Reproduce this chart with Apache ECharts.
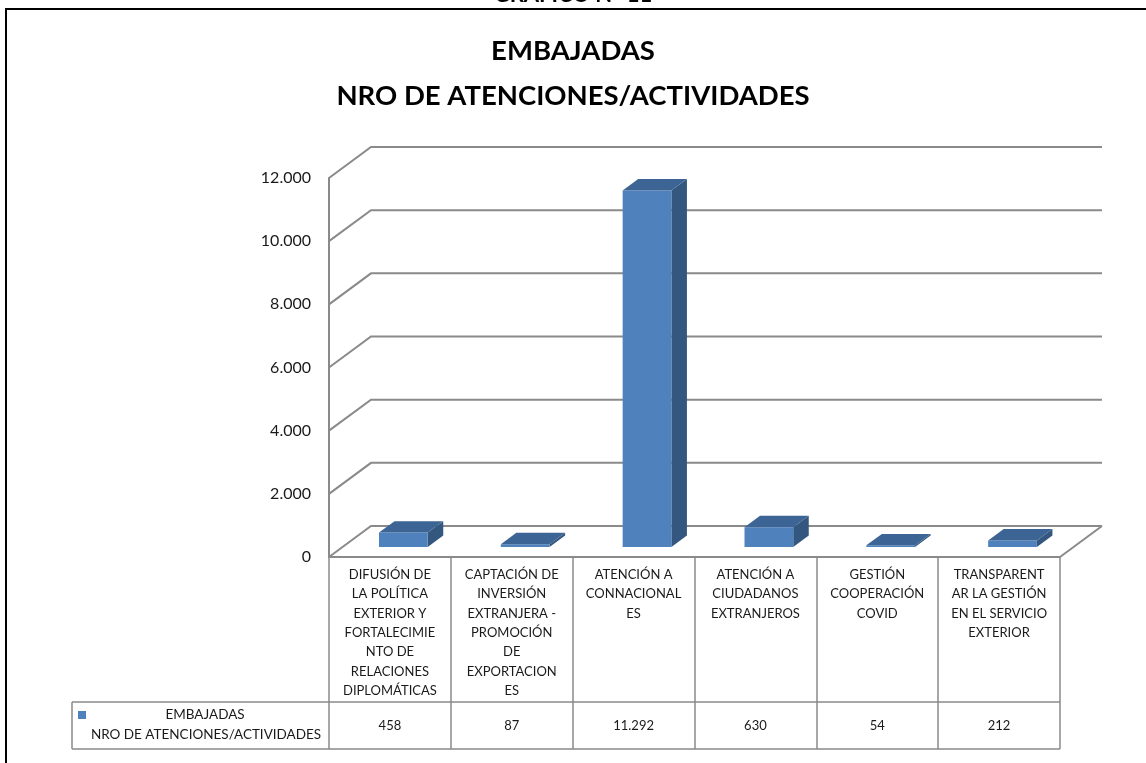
<!DOCTYPE html>
<html>
<head>
<meta charset="utf-8">
<title>Embajadas - Nro de atenciones/actividades</title>
<script src="https://cdn.jsdelivr.net/npm/echarts@6/dist/echarts.min.js"></script>
<style>
  html, body { margin: 0; padding: 0; background: #fff; }
  #chart { width: 1146px; height: 763px; }
</style>
</head>
<body>
<div id="chart"></div>
<script>
// data
const categories = [
  'DIFUSIÓN DE\nLA POLÍTICA\nEXTERIOR Y\nFORTALECIMIE\nNTO DE\nRELACIONES\nDIPLOMÁTICAS',
  'CAPTACIÓN DE\nINVERSIÓN\nEXTRANJERA -\nPROMOCIÓN\nDE\nEXPORTACION\nES',
  'ATENCIÓN A\nCONNACIONAL\nES',
  'ATENCIÓN A\nCIUDADANOS\nEXTRANJEROS',
  'GESTIÓN\nCOOPERACIÓN\nCOVID',
  'TRANSPARENT\nAR LA GESTIÓN\nEN EL SERVICIO\nEXTERIOR'
];
const values = [458, 87, 11292, 630, 54, 212];
const yTicks = [0, 2000, 4000, 6000, 8000, 10000, 12000];
const seriesLabel = ['EMBAJADAS', 'NRO DE ATENCIONES/ACTIVIDADES'];

// 3d look
const DX = 42, DY = 31;        // depth of the back wall
const F1 = 0.32, F2 = 0.69;    // bar front / back depth
const GRID = '#8a8a8a';
const FONT = 'Lato';

function fmt(v) {
  return String(v).replace(/\B(?=(\d{3})+(?!\d))/g, '.');
}

function renderWall(params, api) {
  const cs = params.coordSys;
  const v = api.value(1);
  const y = api.coord([0, v])[1];
  const x0 = cs.x, x1 = cs.x + cs.width;
  const children = [{
    type: 'polyline',
    shape: { points: [[x0, y], [x0 + DX, y - DY], [x1 + DX, y - DY]] },
    style: { stroke: GRID, lineWidth: 2, fill: null }
  }];
  if (v === 0) {
    children.push({
      type: 'polyline',
      shape: { points: [[x1, y], [x1 + DX, y - DY]] },
      style: { stroke: GRID, lineWidth: 2, fill: null }
    });
  }
  return { type: 'group', children: children };
}

function renderBar(params, api) {
  const i = api.value(0), v = api.value(1);
  const top = api.coord([i, v]);
  const base = api.coord([i, 0]);
  const band = api.size([1, 0])[0];
  const w = band * 0.4;
  const xl = top[0] - w / 2 + F1 * DX, xr = xl + w;
  const yt = top[1] - F1 * DY, yb = base[1] - F1 * DY;
  const ddx = (F2 - F1) * DX, ddy = (F2 - F1) * DY;
  return {
    type: 'group',
    children: [
      {
        type: 'polygon',
        shape: { points: [[xr, yt], [xr + ddx, yt - ddy], [xr + ddx, yb - ddy], [xr, yb]] },
        style: { fill: '#34577f' }
      },
      {
        type: 'rect',
        shape: { x: xl, y: yt, width: w, height: yb - yt },
        style: { fill: '#4f81bd' }
      },
      {
        type: 'polygon',
        shape: { points: [[xl, yt], [xl + ddx, yt - ddy], [xr + ddx, yt - ddy], [xr, yt]] },
        style: { fill: '#3c6595' }
      }
    ]
  };
}

function renderValueCell(params, api) {
  const i = api.value(0);
  const x = api.coord([i, 0])[0];
  return {
    type: 'text',
    style: {
      x: x, y: 726, text: fmt(api.value(1)),
      align: 'center', verticalAlign: 'middle',
      font: '13px ' + FONT, fill: '#1a1a1a'
    }
  };
}

const chart = echarts.init(document.getElementById('chart'));
chart.setOption({
  animation: false,
  backgroundColor: '#fff',
  title: {
    text: seriesLabel.join('\n'),
    left: 'center',
    top: 24,
    textStyle: { fontFamily: FONT, fontSize: 27.5, fontWeight: 'bold', lineHeight: 45, color: '#000' }
  },
  grid: { left: 329, right: 86, top: 178, bottom: 206 },
  xAxis: {
    type: 'category',
    data: categories,
    axisLine: { show: true, lineStyle: { color: GRID, width: 2 } },
    axisTick: { show: true, interval: 0, length: 192, lineStyle: { color: GRID, width: 1.5 } },
    axisLabel: { interval: 0, margin: 8, fontFamily: FONT, fontSize: 13, lineHeight: 19.4, color: '#1a1a1a' }
  },
  yAxis: {
    type: 'value',
    min: 0,
    max: 12000,
    interval: 2000,
    axisLine: { show: true, lineStyle: { color: GRID, width: 2 } },
    axisTick: { show: false },
    splitLine: { show: false },
    axisLabel: { margin: 18, fontFamily: FONT, fontSize: 16, color: '#1a1a1a', formatter: fmt }
  },
  series: [
    { type: 'custom', z: 1, renderItem: renderWall, encode: { x: 0, y: 1 }, data: yTicks.map(v => [0, v]) },
    { type: 'custom', z: 3, renderItem: renderBar, encode: { x: 0, y: 1 }, data: values.map((v, i) => [i, v]) },
    { type: 'custom', z: 3, renderItem: renderValueCell, encode: { x: 0, y: 1 }, data: values.map((v, i) => [i, v]) }
  ],
  graphic: [
    { type: 'rect', shape: { x: 6, y: 9, width: 1200, height: 800 }, style: { fill: null, stroke: '#000', lineWidth: 2 } },
    { type: 'text', x: 573, y: 6, style: { text: 'GRAFICO N° 11', align: 'center', verticalAlign: 'bottom', font: 'bold 22px ' + FONT, fill: '#000' } },
    // data table rows
    { type: 'line', shape: { x1: 72, y1: 702, x2: 1060, y2: 702 }, style: { stroke: GRID, lineWidth: 1.5 } },
    { type: 'line', shape: { x1: 72, y1: 749, x2: 1060, y2: 749 }, style: { stroke: GRID, lineWidth: 1.5 } },
    { type: 'line', shape: { x1: 72, y1: 702, x2: 72, y2: 749 }, style: { stroke: GRID, lineWidth: 1.5 } },
    { type: 'rect', shape: { x: 78, y: 711, width: 8, height: 8 }, style: { fill: '#4f81bd' } },
    { type: 'text', x: 205, y: 715, style: { text: seriesLabel[0], align: 'center', verticalAlign: 'middle', font: '13.5px ' + FONT, fill: '#1a1a1a' } },
    { type: 'text', x: 206, y: 735, style: { text: seriesLabel[1], align: 'center', verticalAlign: 'middle', font: '13.5px ' + FONT, fill: '#1a1a1a' } }
  ]
});
</script>
</body>
</html>
